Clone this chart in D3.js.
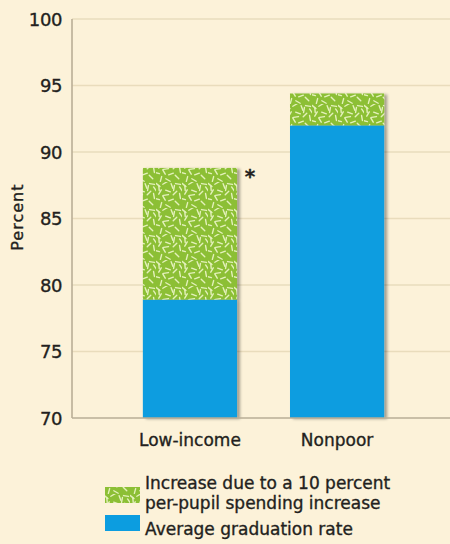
<!DOCTYPE html>
<html>
<head>
<meta charset="utf-8">
<script src="https://cdn.jsdelivr.net/npm/d3@7"></script>
<style>
  html, body { margin: 0; padding: 0; background: #fcf2d9; }
  svg { display: block; }
  text { font-family: "DejaVu Sans", Verdana, sans-serif; fill: #231f20; stroke: #231f20; stroke-width: 0.35px; }
</style>
</head>
<body>
<script>
// Graduation rates by income group
const categories = ["Low-income", "Nonpoor"];
const averageRate = [78.9, 92.0];
const spendingIncrease = [9.9, 2.4];
const yTicks = [70, 75, 80, 85, 90, 95, 100];
const flagged = ["Low-income"];
const legendLabels = [
  ["Increase due to a 10 percent", "per-pupil spending increase"],
  ["Average graduation rate"]
];

const W = 450, H = 544;
const svg = d3.select("body").append("svg").attr("width", W).attr("height", H);

const defs = svg.append("defs");

// Speckled fill: green ground with short pale dashes
const pat = defs.append("pattern")
  .attr("id", "speckle").attr("patternUnits", "userSpaceOnUse")
  .attr("width", 26).attr("height", 26);
pat.append("rect").attr("width", 26).attr("height", 26).attr("fill", "#8cbf35");
const dashes = [
  [2, 3, 40], [9, 1, -30], [16, 4, 70], [22, 2, 10], [4, 10, -60],
  [12, 9, 20], [19, 11, -45], [24, 14, 80], [1, 17, 15], [8, 16, 60],
  [15, 18, -20], [21, 21, 45], [5, 23, -75], [12, 24, 30], [18, 6, -80],
  [3, 6, 85], [10, 13, -10], [25, 7, 55]
];
dashes.forEach(([x, y, a]) => {
  pat.append("line")
    .attr("x1", -2.5).attr("x2", 2.5).attr("y1", 0).attr("y2", 0)
    .attr("transform", `translate(${x},${y}) rotate(${a})`)
    .attr("stroke", "#e4f1bb").attr("stroke-width", 1.4)
    .attr("stroke-linecap", "round");
});

// Soft shadow on the bars' right edge
const f = defs.append("filter").attr("id", "shadow")
  .attr("x", "-10%").attr("y", "-10%").attr("width", "130%").attr("height", "120%");
f.append("feGaussianBlur").attr("in", "SourceAlpha").attr("stdDeviation", 1.8).attr("result", "b");
f.append("feOffset").attr("in", "b").attr("dx", 3).attr("dy", 1).attr("result", "o");
f.append("feComponentTransfer").attr("in", "o").attr("result", "s")
  .append("feFuncA").attr("type", "linear").attr("slope", 0.35);
const fm = f.append("feMerge");
fm.append("feMergeNode").attr("in", "s");
fm.append("feMergeNode").attr("in", "SourceGraphic");

const margin = { left: 72, top: 19, right: 0, bottom: 126 };
const plotBottom = H - margin.bottom;

const y = d3.scaleLinear().domain([70, 100]).range([plotBottom, margin.top]);
const x = d3.scaleBand().domain(categories).range([84, 443]).paddingInner(0.36).paddingOuter(0.4);

// Gridlines
svg.append("g").selectAll("line").data(yTicks.filter(t => t > 70)).join("line")
  .attr("x1", margin.left).attr("x2", W)
  .attr("y1", d => y(d)).attr("y2", d => y(d))
  .attr("stroke", "#e9dcbc").attr("stroke-width", 1.5);

// Y axis
const yAxis = svg.append("g").attr("transform", `translate(${margin.left},0)`)
  .call(d3.axisLeft(y).tickValues(yTicks).tickSize(0).tickPadding(10));
yAxis.select(".domain").remove();
yAxis.selectAll("text").style("font-size", "18px").attr("fill", "#231f20")
  .attr("font-family", null).attr("dy", "0.36em").attr("letter-spacing", "-0.4px");

// Bars
const barG = svg.append("g");
categories.forEach((c, i) => {
  const g = barG.append("g").attr("filter", "url(#shadow)");
  g.append("rect")
    .attr("x", x(c)).attr("width", x.bandwidth())
    .attr("y", y(averageRate[i])).attr("height", y(70) - y(averageRate[i]))
    .attr("fill", "#0c9de0");
  g.append("rect")
    .attr("x", x(c)).attr("width", x.bandwidth())
    .attr("y", y(averageRate[i] + spendingIncrease[i]))
    .attr("height", y(averageRate[i]) - y(averageRate[i] + spendingIncrease[i]))
    .attr("fill", "url(#speckle)");
});

// Axis lines
svg.append("line").attr("x1", margin.left).attr("x2", margin.left)
  .attr("y1", margin.top).attr("y2", plotBottom)
  .attr("stroke", "#b9ae96").attr("stroke-width", 1.6);
svg.append("line").attr("x1", margin.left).attr("x2", W)
  .attr("y1", plotBottom).attr("y2", plotBottom)
  .attr("stroke", "#b9ae96").attr("stroke-width", 1.6);

// Significance marker
categories.forEach((c, i) => {
  if (flagged.includes(c)) {
    svg.append("text")
      .attr("x", x(c) + x.bandwidth() + 13)
      .attr("y", y(averageRate[i] + spendingIncrease[i]) + 15)
      .attr("text-anchor", "middle")
      .style("font-size", "20px").style("font-weight", 700)
      .text("*");
  }
});

// Category labels
svg.append("g").selectAll("text").data(categories).join("text")
  .attr("x", d => x(d) + x.bandwidth() / 2)
  .attr("y", plotBottom + 28)
  .attr("text-anchor", "middle")
  .style("font-size", "17px")
  .text(d => d);

// Y label
svg.append("text")
  .attr("transform", `translate(23,${y(85.1)}) rotate(-90)`)
  .attr("text-anchor", "middle")
  .style("font-size", "16px").attr("letter-spacing", "1px")
  .text("Percent");

// Legend
const leg = svg.append("g");
leg.append("rect").attr("x", 105).attr("y", 487).attr("width", 35).attr("height", 16)
  .attr("fill", "url(#speckle)");
leg.append("rect").attr("x", 105).attr("y", 515).attr("width", 35).attr("height", 16)
  .attr("fill", "#0c9de0");
legendLabels[0].forEach((t, k) => {
  leg.append("text").attr("x", 145).attr("y", 489 + k * 19.5)
    .style("font-size", "17px").text(t);
});
leg.append("text").attr("x", 145).attr("y", 535)
  .style("font-size", "17px").text(legendLabels[1][0]);
</script>
</body>
</html>
